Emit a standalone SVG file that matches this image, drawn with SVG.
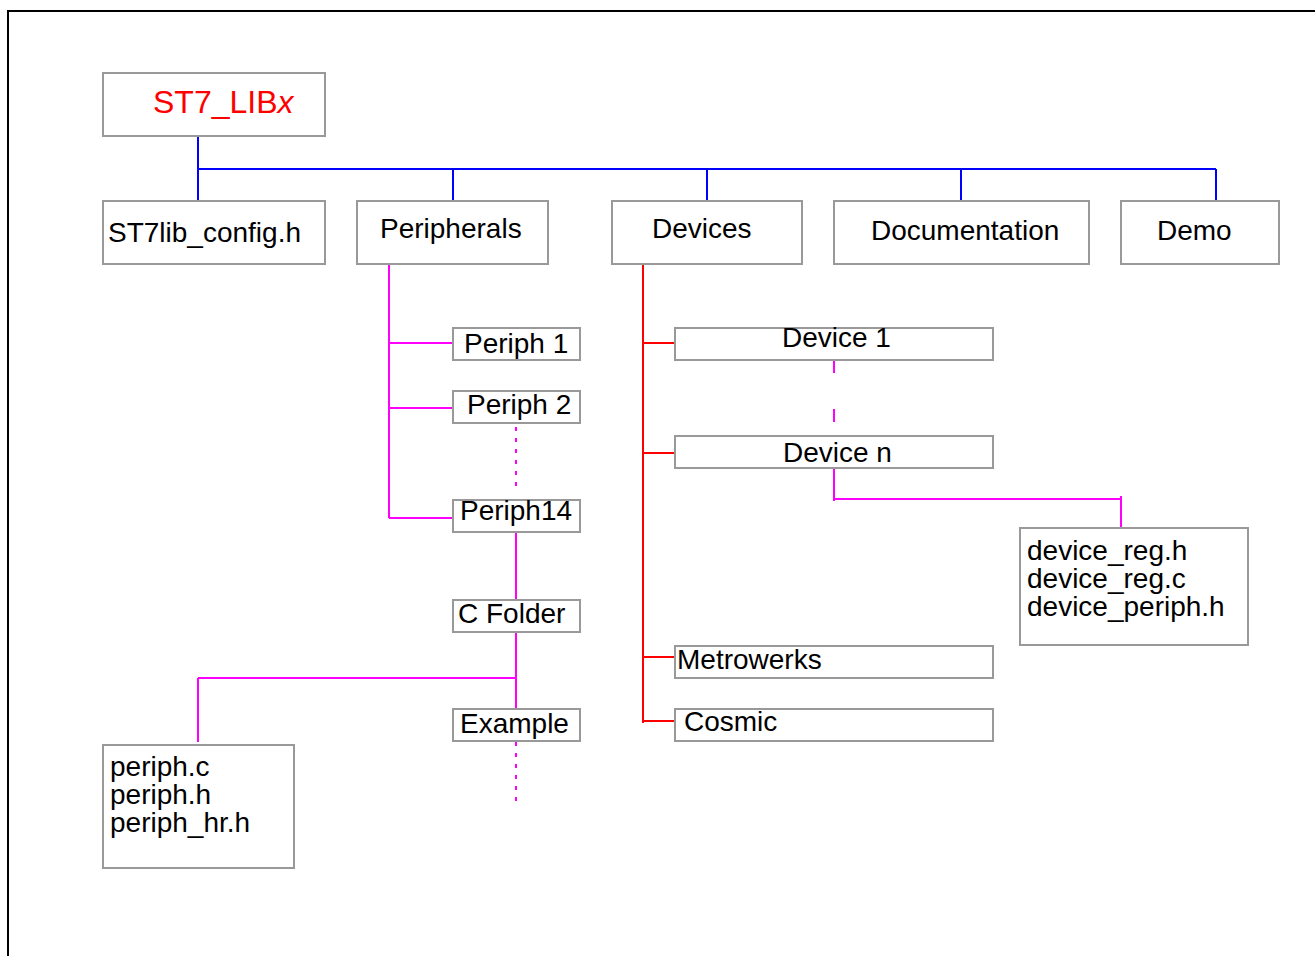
<svg xmlns="http://www.w3.org/2000/svg" width="1315" height="956" viewBox="0 0 1315 956">
<style>
.box{fill:#fff;stroke:#999;stroke-width:2}
.t{font-family:"Liberation Sans",Arial,sans-serif;font-size:28px;fill:#000}
.red{font-family:"Liberation Sans",Arial,sans-serif;font-size:32px;fill:#f00}
.blue{stroke:#00f;stroke-width:2;fill:none}
.mag{stroke:#f0f;stroke-width:2;fill:none}
.rd{stroke:#f00;stroke-width:2;fill:none}
</style>
<rect width="1315" height="956" fill="#fff"/>
<path d="M8,956 V11 H1315" fill="none" stroke="#000" stroke-width="2"/>
<g id="connectors">
<path class="blue" d="M198,137 V201 M198,169 H1216 M453,169 V201 M707,169 V201 M961,169 V201 M1216,169 V201"/>
<path class="mag" d="M389,264 V518 M389,343 H453 M389,408 H453 M389,518 H453"/>
<path class="mag" d="M516,427 V492" stroke-dasharray="4 7"/>
<path class="mag" d="M516,532 V600 M516,632 V709 M198,678 H516 M198,678 V742"/>
<path class="mag" d="M516,742 V805" stroke-dasharray="4 7"/>
<path class="rd" d="M643,264 V723 M643,343 H675 M643,453 H675 M643,657 H677 M643,721 H675"/>
<path class="mag" d="M834,360 V424" stroke-dasharray="13 36"/>
<path class="mag" d="M834,468 V501 M834,499 H1121 M1121,496 V528"/>
</g>
<g id="n-root"><rect class="box" x="103" y="73" width="222" height="63"/><text class="red" x="153" y="112.5">ST7_LIB<tspan font-style="italic">x</tspan></text></g>
<g id="n-config"><rect class="box" x="103" y="201" width="222" height="63"/><text class="t" x="108" y="242">ST7lib_config.h</text></g>
<g id="n-periph"><rect class="box" x="357" y="201" width="191" height="63"/><text class="t" x="380" y="238">Peripherals</text></g>
<g id="n-devices"><rect class="box" x="612" y="201" width="190" height="63"/><text class="t" x="652" y="238">Devices</text></g>
<g id="n-doc"><rect class="box" x="834" y="201" width="255" height="63"/><text class="t" x="871" y="240">Documentation</text></g>
<g id="n-demo"><rect class="box" x="1121" y="201" width="158" height="63"/><text class="t" x="1157" y="240">Demo</text></g>
<g id="n-p1"><rect class="box" x="453" y="328" width="127" height="32"/><text class="t" x="464" y="353">Periph 1</text></g>
<g id="n-p2"><rect class="box" x="453" y="391" width="127" height="32"/><text class="t" x="467" y="414">Periph 2</text></g>
<g id="n-p14"><rect class="box" x="453" y="500" width="127" height="32"/><text class="t" x="460" y="520">Periph14</text></g>
<g id="n-cfolder"><rect class="box" x="453" y="600" width="127" height="32"/><text class="t" x="458" y="623">C Folder</text></g>
<g id="n-example"><rect class="box" x="453" y="709" width="127" height="32"/><text class="t" x="460" y="733">Example</text></g>
<g id="n-pfiles"><rect class="box" x="103" y="745" width="191" height="123"/><text class="t" x="110" y="776">periph.c</text><text class="t" x="110" y="804">periph.h</text><text class="t" x="110" y="832">periph_hr.h</text></g>
<g id="n-d1"><rect class="box" x="675" y="328" width="318" height="32"/><text class="t" x="782" y="347">Device 1</text></g>
<g id="n-dn"><rect class="box" x="675" y="436" width="318" height="32"/><text class="t" x="783" y="462">Device n</text></g>
<g id="n-dfiles"><rect class="box" x="1020" y="528" width="228" height="117"/><text class="t" x="1027" y="560">device_reg.h</text><text class="t" x="1027" y="588">device_reg.c</text><text class="t" x="1027" y="616">device_periph.h</text></g>
<g id="n-metro"><rect class="box" x="675" y="646" width="318" height="32"/><text class="t" x="677" y="669">Metrowerks</text></g>
<g id="n-cosmic"><rect class="box" x="675" y="709" width="318" height="32"/><text class="t" x="684" y="731">Cosmic</text></g>
</svg>
